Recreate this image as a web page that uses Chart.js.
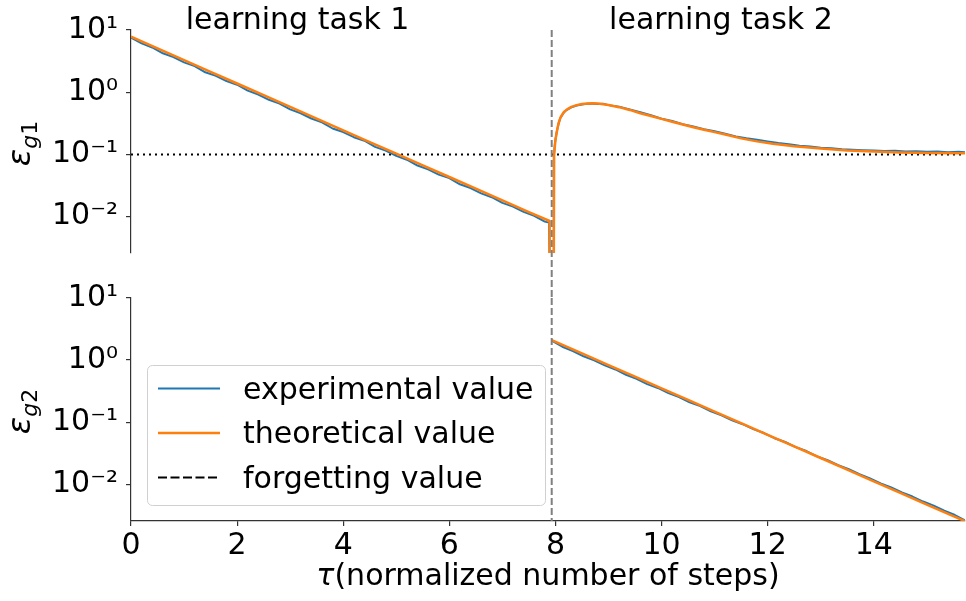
<!DOCTYPE html>
<html>
<head>
<meta charset="utf-8">
<script src="https://cdn.jsdelivr.net/npm/chart.js@4.4.0/dist/chart.umd.min.js"></script>
<style>
html,body{margin:0;padding:0;background:#fff;}
#wrap{position:relative;width:966px;height:601px;overflow:hidden;}
#wrap canvas{position:absolute;left:0;top:0;}
</style>
</head>
<body>
<div id="wrap">
  <canvas id="topPanel" width="966" height="601"></canvas>
  <canvas id="botPanel" width="966" height="601"></canvas>
</div>
<script>
// ---- data ----
const seriesLabels = ['experimental value', 'theoretical value', 'forgetting value'];
const panelTitles = ['learning task 1', 'learning task 2'];
const xTicks = [0, 2, 4, 6, 8, 10, 12, 14];
const yTicks = [0.01, 0.1, 1, 10];
const tauMax = 15.72;
const taskSwitch = 7.93;
const forgetLevel = 0.1;

// top panel (eps_g1), theoretical
const theoTopTau = [0, 0.5, 1, 1.5, 2, 2.5, 3, 3.5, 4, 4.5, 5, 5.5, 6, 6.5, 7, 7.5, 7.89, 7.89, 7.965,
  7.975, 8.0, 8.03, 8.06, 8.1, 8.16, 8.22, 8.3, 8.4, 8.5, 8.6, 8.7, 8.8,
  9.0, 9.2, 9.4, 9.6, 9.8, 10.0, 10.2, 10.4, 10.6, 10.8, 11.0, 11.2,
  11.5, 11.8, 12.1, 12.5, 13.0, 13.5, 14.0, 14.5, 15.0, 15.72];
const theoTopVal = [7.80, 5.06, 3.28, 2.13, 1.38, 0.895, 0.581, 0.377, 0.244, 0.158, 0.103, 0.0667, 0.0433, 0.0281, 0.0182, 0.0118, 0.0085, 0.0001, 0.0001,
  0.10, 0.17, 0.24, 0.32, 0.40, 0.48, 0.53, 0.58, 0.62, 0.645, 0.66, 0.664, 0.656,
  0.624, 0.575, 0.519, 0.46, 0.414, 0.372, 0.335, 0.302, 0.274, 0.249, 0.228, 0.209,
  0.181, 0.162, 0.148, 0.1355, 0.1245, 0.116, 0.111, 0.1076, 0.1054, 0.104];

// top panel, experimental
const expTopTau = [0, 0.2, 0.4, 0.6, 0.8, 1.0, 1.2, 1.4, 1.6, 1.8, 2.0, 2.2, 2.4, 2.6, 2.8, 3.0, 3.2, 3.4, 3.6, 3.8,
  4.0, 4.2, 4.4, 4.6, 4.8, 5.0, 5.2, 5.4, 5.6, 5.8, 6.0, 6.2, 6.4, 6.6, 6.8, 7.0, 7.2, 7.4, 7.6, 7.8, 7.88,
  7.91, 7.96, 7.97, 7.99, 8.02, 8.05, 8.09, 8.15, 8.2, 8.3, 8.4, 8.5, 8.6, 8.7, 8.8, 8.9, 9.0,
  9.2, 9.4, 9.6, 9.8, 10.0, 10.2, 10.4, 10.6, 10.8, 11.0, 11.2, 11.4, 11.6, 11.8, 12.0, 12.2, 12.4, 12.6, 12.8,
  13.0, 13.2, 13.4, 13.6, 13.8, 14.0, 14.2, 14.4, 14.6, 14.8, 15.0, 15.2, 15.4, 15.6, 15.72];
const expTopVal = [7.57, 6.10, 5.24, 4.22, 3.67, 3.02, 2.62, 2.09, 1.83, 1.51, 1.32, 1.06, 0.917, 0.755, 0.656, 0.529, 0.459, 0.378, 0.328, 0.261,
  0.229, 0.189, 0.166, 0.132, 0.115, 0.0948, 0.0822, 0.0662, 0.0575, 0.0473, 0.0416, 0.0331, 0.0288, 0.0236, 0.0205, 0.0166, 0.0145, 0.0119, 0.0103, 0.0083, 0.0080,
  0.0001, 0.0001, 0.09, 0.15, 0.22, 0.29, 0.38, 0.46, 0.51, 0.57, 0.61, 0.635, 0.65, 0.655, 0.645, 0.65, 0.62,
  0.585, 0.53, 0.475, 0.425, 0.375, 0.345, 0.305, 0.28, 0.255, 0.235, 0.215, 0.195, 0.182, 0.172, 0.162, 0.152, 0.146, 0.138, 0.134,
  0.128, 0.126, 0.121, 0.119, 0.117, 0.116, 0.113, 0.114, 0.111, 0.112, 0.110, 0.111, 0.108, 0.110, 0.108];

// bottom panel (eps_g2), theoretical
const theoBotTau = [7.93, 8.5, 9.0, 9.5, 10.0, 10.5, 11.0, 11.5, 12.0, 12.5, 13.0, 13.5, 14.0, 14.5, 15.0, 15.5, 15.72];
const theoBotVal = [2.09, 1.278, 0.830, 0.540, 0.351, 0.228, 0.148, 0.0961, 0.0625, 0.0406, 0.0264, 0.0171, 0.0111, 0.00724, 0.0047, 0.00306, 0.00253];

// bottom panel, experimental
const expBotTau = [7.93, 8.13, 8.33, 8.53, 8.73, 8.93, 9.13, 9.33, 9.53, 9.73, 9.93, 10.13, 10.33, 10.53, 10.73, 10.93, 11.13, 11.33, 11.53, 11.73,
  11.93, 12.13, 12.33, 12.53, 12.73, 12.93, 13.13, 13.33, 13.53, 13.73, 13.93, 14.13, 14.33, 14.53, 14.73, 14.93, 15.13, 15.33, 15.53, 15.72];
const expBotVal = [2.05, 1.64, 1.40, 1.15, 0.99, 0.82, 0.705, 0.58, 0.50, 0.41, 0.355, 0.293, 0.253, 0.208, 0.181, 0.149, 0.129, 0.107, 0.0925, 0.0770,
  0.0667, 0.0550, 0.0478, 0.0395, 0.0342, 0.0281, 0.0243, 0.0202, 0.0174, 0.0145, 0.0124, 0.0103, 0.00885, 0.00735, 0.00632, 0.00525, 0.00450, 0.00373, 0.00318, 0.00262];

const yMinTop = 0.0026, yMinBot = 0.00255, yMax = 10;

// ---- helpers ----
const FONT = '"DejaVu Sans", "Liberation Sans", sans-serif';
const FS = 30;
const BLUE = '#1f77b4', ORANGE = '#ff7f0e';
const zip = (xs, ys) => xs.map((x, i) => ({x: x, y: ys[i]}));
const sup = {'-': '⁻', '0': '⁰', '1': '¹', '2': '²', '3': '³', '4': '⁴'};
function decadeLabel(v){
  const e = Math.round(Math.log10(v));
  return '10' + String(e).split('').map(c => sup[c]).join('');
}

function yLabel(ctx, area, sub){
  const cy = (area.top + area.bottom) / 2 + 2;
  ctx.save();
  ctx.translate(30, cy);
  ctx.rotate(-Math.PI / 2);
  ctx.fillStyle = '#000';
  ctx.textBaseline = 'alphabetic';
  ctx.textAlign = 'left';
  const fE = 'italic 32px ' + FONT, fG = 'italic 22px ' + FONT, fN = '22px ' + FONT;
  ctx.font = fE; const wE = ctx.measureText('ε').width;
  ctx.font = fG; const wG = ctx.measureText('g').width;
  ctx.font = fN; const wN = ctx.measureText(sub).width;
  let x = -(wE + wG + wN) / 2;
  ctx.font = fE; ctx.fillText('ε', x, 0); x += wE;
  ctx.font = fG; ctx.fillText('g', x, 7); x += wG;
  ctx.font = fN; ctx.fillText(sub, x, 7);
  ctx.restore();
}

const topDecor = {
  id: 'topDecor',
  afterDraw(chart){
    const ctx = chart.ctx, xs = chart.scales.x;
    ctx.save();
    ctx.fillStyle = '#000';
    ctx.font = FS + 'px ' + FONT;
    ctx.textAlign = 'center';
    ctx.textBaseline = 'alphabetic';
    ctx.fillText(panelTitles[0], xs.getPixelForValue(3.14), 29);
    ctx.fillText(panelTitles[1], xs.getPixelForValue(11.12), 29);
    ctx.restore();
    yLabel(ctx, chart.chartArea, '1');
  }
};

const legendHandles = [
  {color: BLUE, width: 2, dash: []},
  {color: ORANGE, width: 2.5, dash: []},
  {color: '#000', width: 2, dash: [9, 3.5]}
];

const botDecor = {
  id: 'botDecor',
  afterDraw(chart){
    const ctx = chart.ctx, area = chart.chartArea;
    yLabel(ctx, area, '2');
    // x title with italic tau
    ctx.save();
    ctx.fillStyle = '#000';
    ctx.textBaseline = 'alphabetic';
    ctx.textAlign = 'left';
    const rest = '(normalized number of steps)';
    ctx.font = 'italic ' + FS + 'px ' + FONT; const wT = ctx.measureText('τ').width;
    ctx.font = FS + 'px ' + FONT; const wR = ctx.measureText(rest).width;
    let x = (area.left + area.right) / 2 - (wT + wR) / 2;
    ctx.font = 'italic ' + FS + 'px ' + FONT; ctx.fillText('τ', x, 585);
    ctx.font = FS + 'px ' + FONT; ctx.fillText(rest, x + wT, 585);
    ctx.restore();
    // legend box
    ctx.save();
    ctx.beginPath();
    ctx.roundRect(147.5, 365.5, 398, 140, 5);
    ctx.fillStyle = 'rgba(255,255,255,0.8)';
    ctx.fill();
    ctx.strokeStyle = '#d0d0d0';
    ctx.lineWidth = 1;
    ctx.stroke();
    seriesLabels.forEach((lab, i) => {
      const y = 388.5 + i * 44.5, h = legendHandles[i];
      ctx.beginPath();
      ctx.setLineDash(h.dash);
      ctx.strokeStyle = h.color;
      ctx.lineWidth = h.width;
      ctx.moveTo(158, y); ctx.lineTo(220, y);
      ctx.stroke();
      ctx.setLineDash([]);
      ctx.fillStyle = '#000';
      ctx.font = FS + 'px ' + FONT;
      ctx.textBaseline = 'alphabetic';
      ctx.fillText(lab, 243, y + 10);
    });
    ctx.restore();
  }
};

function yScale(min){
  return {
    type: 'logarithmic', min: min, max: yMax,
    afterFit(s){ s.width = 131; },
    afterBuildTicks(s){ s.ticks = yTicks.map(v => ({value: v})); },
    ticks: {callback: v => decadeLabel(v), font: {family: FONT, size: FS}, color: '#000', padding: 8, autoSkip: false},
    grid: {drawOnChartArea: false, drawTicks: true, tickLength: 5, color: '#333', tickColor: '#333', lineWidth: 1.2},
    border: {display: true, color: '#333', width: 1.2}
  };
}

const common = {
  responsive: false, animation: false, devicePixelRatio: 1,
  elements: {point: {radius: 0}, line: {tension: 0, borderJoinStyle: 'round', fill: false}},
  plugins: {legend: {display: false}, tooltip: {enabled: false}, title: {display: false}},
  events: []
};

new Chart(document.getElementById('topPanel'), {
  type: 'line',
  data: {datasets: [
    {label: 'task switch', data: [{x: taskSwitch, y: yMax}, {x: taskSwitch, y: 0.0005}], borderColor: '#808080', borderDash: [7, 3], borderWidth: 2, clip: false, order: 0},
    {label: seriesLabels[1], data: zip(theoTopTau, theoTopVal), borderColor: ORANGE, borderWidth: 2.5, order: 1},
    {label: seriesLabels[0], data: zip(expTopTau, expTopVal), borderColor: BLUE, borderWidth: 2, order: 2},
    {label: seriesLabels[2], data: [{x: 0, y: forgetLevel}, {x: tauMax, y: forgetLevel}], borderColor: '#000', borderDash: [2, 4], borderWidth: 2, order: 3}
  ]},
  options: Object.assign({}, common, {
    layout: {padding: {left: 0, right: 1, top: 30, bottom: 348}},
    scales: {
      x: {type: 'linear', min: 0, max: tauMax, display: false},
      y: yScale(yMinTop)
    }
  }),
  plugins: [topDecor]
});

new Chart(document.getElementById('botPanel'), {
  type: 'line',
  data: {datasets: [
    {label: 'task switch', data: [{x: taskSwitch, y: yMax}, {x: taskSwitch, y: yMinBot}], borderColor: '#808080', borderDash: [7, 3], borderWidth: 2, order: 0},
    {label: seriesLabels[1], data: zip(theoBotTau, theoBotVal), borderColor: ORANGE, borderWidth: 2.5, order: 1},
    {label: seriesLabels[0], data: zip(expBotTau, expBotVal), borderColor: BLUE, borderWidth: 2, order: 2}
  ]},
  options: Object.assign({}, common, {
    layout: {padding: {left: 0, right: 1, top: 298, bottom: 0}},
    scales: {
      x: {
        type: 'linear', min: 0, max: tauMax,
        afterFit(s){ s.height = 80; },
        afterBuildTicks(s){ s.ticks = xTicks.map(v => ({value: v})); },
        ticks: {font: {family: FONT, size: FS}, color: '#000', padding: 2, maxRotation: 0, autoSkip: false},
        grid: {drawOnChartArea: false, drawTicks: true, tickLength: 5, color: '#333', tickColor: '#333', lineWidth: 1.2},
        border: {display: true, color: '#333', width: 1.2}
      },
      y: yScale(yMinBot)
    }
  }),
  plugins: [botDecor]
});
</script>
</body>
</html>
